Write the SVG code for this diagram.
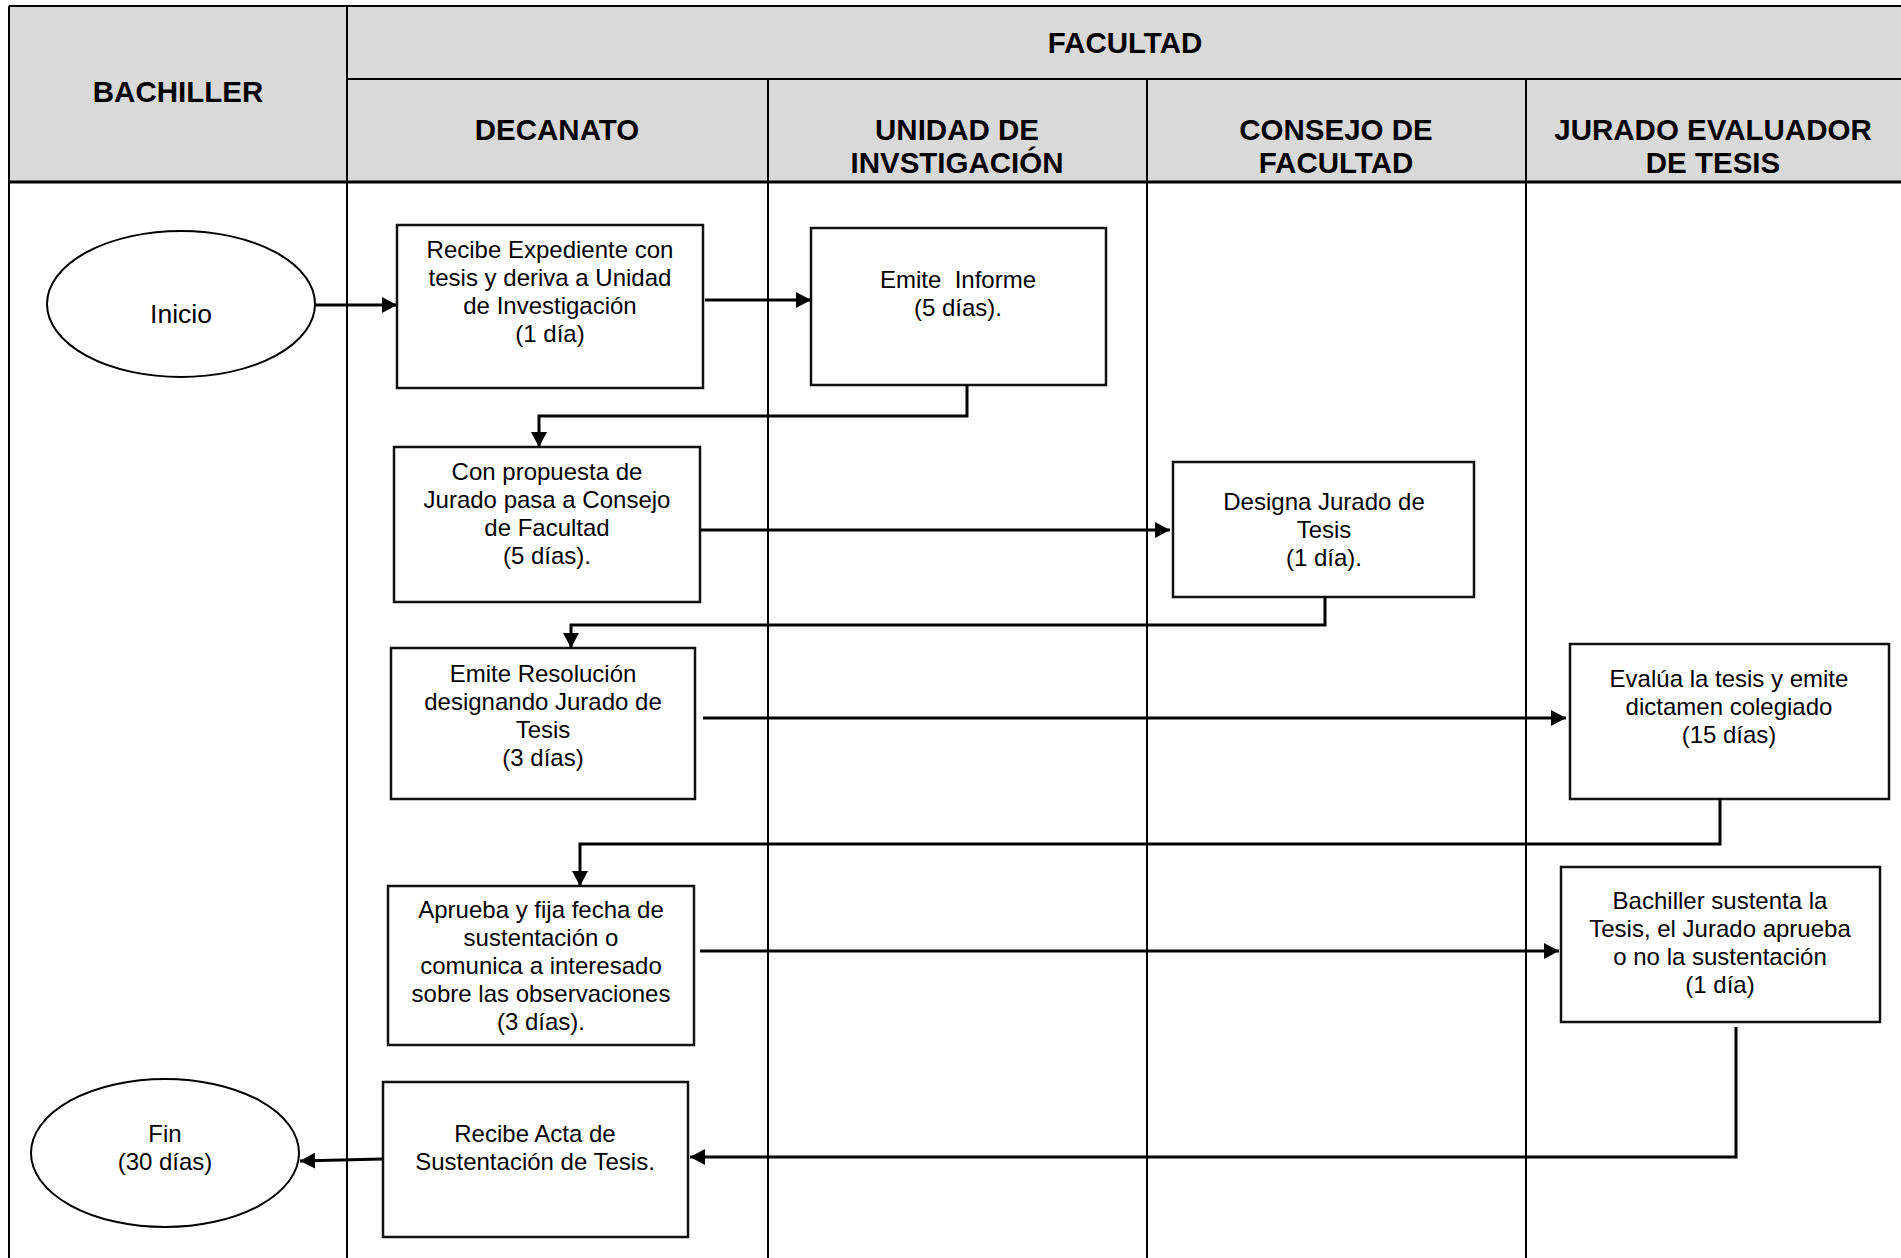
<svg xmlns="http://www.w3.org/2000/svg" width="1901" height="1258" viewBox="0 0 1901 1258">
<style>
.hdr{fill:#d9d9d9;stroke:none}
.lane{stroke:#000;stroke-width:2;fill:none}
.hl{font-family:"Liberation Sans",Arial,sans-serif;font-weight:bold;font-size:29.5px;fill:#000;text-anchor:middle}
.box{fill:#fff;stroke:#111;stroke-width:2.5}
.ell{fill:#fff;stroke:#000;stroke-width:2}
.t{font-family:"Liberation Sans",Arial,sans-serif;font-size:24px;fill:#000;text-anchor:middle}
.c{stroke:#000;stroke-width:3;fill:none}
</style>
<defs>
<marker id="ah" viewBox="0 0 15 16" refX="15" refY="8" markerWidth="15" markerHeight="16" markerUnits="userSpaceOnUse" orient="auto">
<path d="M0,0 L15,8 L0,16 Z" fill="#000"/>
</marker>
</defs>
<rect width="1901" height="1258" fill="#fff"/>
<g id="lanes">
<rect class="hdr" x="9" y="6" width="1892" height="176"/>
<line class="lane" x1="9" y1="6" x2="1901" y2="6"/>
<line class="lane" x1="347" y1="79" x2="1901" y2="79"/>
<line class="lane" x1="9" y1="182" x2="1901" y2="182" style="stroke-width:3"/>
<line class="lane" x1="9" y1="6" x2="9" y2="1258"/>
<line class="lane" x1="347" y1="6" x2="347" y2="1258"/>
<line class="lane" x1="768" y1="79" x2="768" y2="1258"/>
<line class="lane" x1="1147" y1="79" x2="1147" y2="1258"/>
<line class="lane" x1="1526" y1="79" x2="1526" y2="1258"/>
<text class="hl" x="178" y="102">BACHILLER</text>
<text class="hl" x="1125" y="53">FACULTAD</text>
<text class="hl" x="557" y="140">DECANATO</text>
<text class="hl" x="957" y="140">UNIDAD DE</text>
<text class="hl" x="957" y="173">INVSTIGACIÓN</text>
<text class="hl" x="1336" y="140">CONSEJO DE</text>
<text class="hl" x="1336" y="173">FACULTAD</text>
<text class="hl" x="1713" y="140">JURADO EVALUADOR</text>
<text class="hl" x="1713" y="173">DE TESIS</text>
</g>
<g id="inicio">
<ellipse class="ell" cx="181" cy="304" rx="134" ry="73"/>
<text class="t" x="181" y="323" style="font-size:26.5px">Inicio</text>
</g>
<g id="recibe-expediente">
<rect class="box" x="397" y="225" width="306" height="163"/>
<text class="t" x="550" y="258">Recibe Expediente con</text>
<text class="t" x="550" y="286">tesis y deriva a Unidad</text>
<text class="t" x="550" y="314">de Investigación</text>
<text class="t" x="550" y="342">(1 día)</text>
</g>
<g id="emite-informe">
<rect class="box" x="811" y="228" width="295" height="157"/>
<text class="t" x="958" y="288" xml:space="preserve">Emite  Informe</text>
<text class="t" x="958" y="316">(5 días).</text>
</g>
<g id="con-propuesta">
<rect class="box" x="394" y="447" width="306" height="155"/>
<text class="t" x="547" y="480">Con propuesta de</text>
<text class="t" x="547" y="508">Jurado pasa a Consejo</text>
<text class="t" x="547" y="536">de Facultad</text>
<text class="t" x="547" y="564">(5 días).</text>
</g>
<g id="designa-jurado">
<rect class="box" x="1173" y="462" width="301" height="135"/>
<text class="t" x="1324" y="510">Designa Jurado de</text>
<text class="t" x="1324" y="538">Tesis</text>
<text class="t" x="1324" y="566">(1 día).</text>
</g>
<g id="emite-resolucion">
<rect class="box" x="391" y="648" width="304" height="151"/>
<text class="t" x="543" y="682">Emite Resolución</text>
<text class="t" x="543" y="710">designando Jurado de</text>
<text class="t" x="543" y="738">Tesis</text>
<text class="t" x="543" y="766">(3 días)</text>
</g>
<g id="evalua-tesis">
<rect class="box" x="1570" y="644" width="319" height="155"/>
<text class="t" x="1729" y="687">Evalúa la tesis y emite</text>
<text class="t" x="1729" y="715">dictamen colegiado</text>
<text class="t" x="1729" y="743">(15 días)</text>
</g>
<g id="aprueba">
<rect class="box" x="388" y="886" width="306" height="159"/>
<text class="t" x="541" y="918">Aprueba y fija fecha de</text>
<text class="t" x="541" y="946">sustentación o</text>
<text class="t" x="541" y="974">comunica a interesado</text>
<text class="t" x="541" y="1002">sobre las observaciones</text>
<text class="t" x="541" y="1030">(3 días).</text>
</g>
<g id="sustenta">
<rect class="box" x="1561" y="867" width="319" height="155"/>
<text class="t" x="1720" y="909">Bachiller sustenta la</text>
<text class="t" x="1720" y="937">Tesis, el Jurado aprueba</text>
<text class="t" x="1720" y="965">o no la sustentación</text>
<text class="t" x="1720" y="993">(1 día)</text>
</g>
<g id="recibe-acta">
<rect class="box" x="383" y="1082" width="305" height="155"/>
<text class="t" x="535" y="1142">Recibe Acta de</text>
<text class="t" x="535" y="1170">Sustentación de Tesis.</text>
</g>
<g id="fin">
<ellipse class="ell" cx="165" cy="1153" rx="134" ry="74"/>
<text class="t" x="165" y="1142">Fin</text>
<text class="t" x="165" y="1170">(30 días)</text>
</g>
<g id="connectors">
<line class="c" x1="315" y1="305" x2="397" y2="305" marker-end="url(#ah)"/>
<line class="c" x1="705" y1="300" x2="811" y2="300" marker-end="url(#ah)"/>
<polyline class="c" points="967,385 967,416 539,416 539,447" marker-end="url(#ah)"/>
<line class="c" x1="701" y1="530" x2="1170" y2="530" marker-end="url(#ah)"/>
<polyline class="c" points="1325,597 1325,625 571,625 571,648" marker-end="url(#ah)"/>
<line class="c" x1="703" y1="718" x2="1566" y2="718" marker-end="url(#ah)"/>
<polyline class="c" points="1720,799 1720,844 580,844 580,886" marker-end="url(#ah)"/>
<line class="c" x1="700" y1="951" x2="1559" y2="951" marker-end="url(#ah)"/>
<polyline class="c" points="1736,1027 1736,1157 690,1157" marker-end="url(#ah)"/>
<line class="c" x1="382" y1="1159" x2="300" y2="1161" marker-end="url(#ah)"/>
</g>
</svg>
